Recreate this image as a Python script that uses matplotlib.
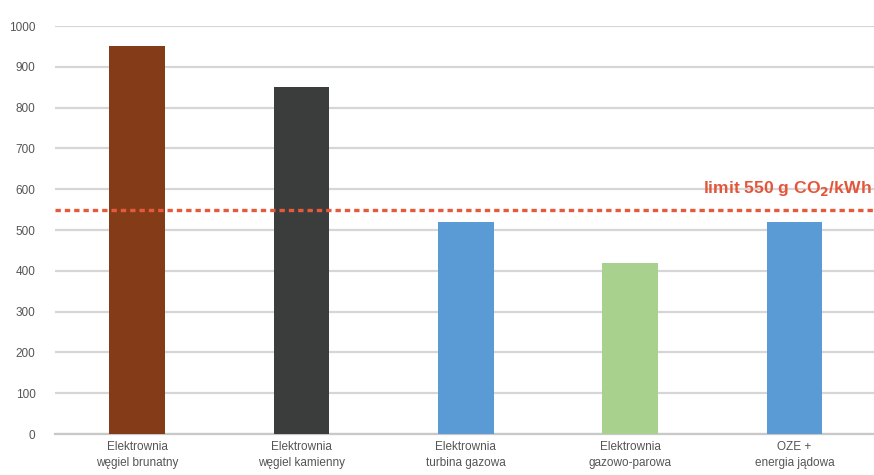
import matplotlib.pyplot as plt

categories = [
    "Elektrownia\nwęgiel brunatny",
    "Elektrownia\nwęgiel kamienny",
    "Elektrownia\nturbina gazowa",
    "Elektrownia\ngazowo-parowa",
    "OZE +\nenergia jądowa",
]
emissions = [950, 850, 520, 420, 520]
bar_colors = ["#843c18", "#3b3d3d", "#5b9bd5", "#a9d18e", "#5b9bd5"]
limit_value = 550
limit_label = r"limit 550 g CO$_\mathbf{2}$/kWh"
y_ticks = [0, 100, 200, 300, 400, 500, 600, 700, 800, 900, 1000]
y_tick_labels = ["0", "100", "200", "300", "400", "500", "600", "700", "800", "900", "1000"]

plt.rcParams["font.family"] = ["Liberation Sans", "DejaVu Sans"]

fig = plt.figure(figsize=(8.74, 4.75), dpi=100)
ax = fig.add_axes([0.063, 0.0863, 0.94, 0.8589])

x = list(range(len(categories)))
ax.bar(x, emissions, width=0.34, color=bar_colors, zorder=3)

ax.set_xlim(-0.5, len(categories) - 0.5)
ax.set_ylim(0, 1000)
ax.set_yticks(y_ticks)
ax.set_yticklabels(y_tick_labels)
ax.set_xticks(x)
ax.set_xticklabels(categories, linespacing=1.5)

ax.grid(axis="y", color="#d6d6d6", linewidth=1.6, zorder=0)
ax.tick_params(axis="y", length=0, pad=14, labelsize=8.5, labelcolor="#555555")
ax.tick_params(axis="x", length=0, pad=5, labelsize=8.5, labelcolor="#555555")
for side in ["top", "right", "left"]:
    ax.spines[side].set_visible(False)
ax.spines["bottom"].set_color("#c8c8c8")
ax.spines["bottom"].set_linewidth(1.6)

ax.axhline(limit_value, color="#e65a3c", linewidth=2.4,
           linestyle=(0, (1.6, 1.2)), zorder=4)
fig.text(0.997, 0.603, limit_label, color="#e4553a", fontsize=12.6,
         fontweight="bold", ha="right", va="center", zorder=5)

fig.savefig("out.png", dpi=100, facecolor="white")
